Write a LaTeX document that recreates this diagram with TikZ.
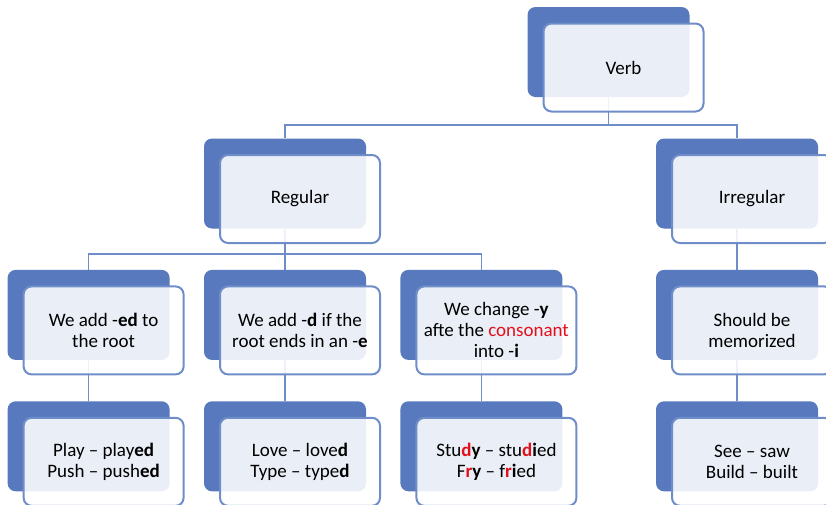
\documentclass[tikz,border=0pt]{standalone}
\usepackage{fontspec}
\setmainfont{Carlito}
\usepackage{tikz}
\usetikzlibrary{positioning}
\definecolor{boxblue}{HTML}{5879BD}
\definecolor{lineblue}{HTML}{6F8DC9}
\definecolor{redtext}{HTML}{E3101C}
\tikzstyle{back}  = [rectangle,rounded corners=8pt,fill=boxblue,minimum width=162pt,minimum height=90pt,inner sep=0pt]
\tikzstyle{front} = [rectangle,rounded corners=8pt,draw=lineblue,line width=2pt,fill=white,fill opacity=0.88,text opacity=1,minimum width=160pt,minimum height=88pt,align=center,xshift=15pt,yshift=-15.5pt]
\tikzstyle{link}  = [draw=lineblue,line width=1.5pt]
\newcommand{\rd}[1]{\textcolor{redtext}{#1}}

\begin{document}
\begin{tikzpicture}[x=1pt,y=-1pt,font=\fontsize{19}{21}\selectfont]
\useasboundingbox (0,0) rectangle (826,504);

\node[back] (V) at (608.5,52)  {};
\node[back] (R) at (285,183.5) {};
\node[back] (I) at (737,183.5) {};

\node[back] (B)  [below=41pt of R] {};
\node[back] (A)  [left=34pt of B]  {};
\node[back] (C)  [right=34pt of B] {};
\node[back] (D)  [below=41pt of I] {};

\node[back] (A2) [below=41pt of A] {};
\node[back] (B2) [below=41pt of B] {};
\node[back] (C2) [below=41pt of C] {};
\node[back] (D2) [below=41pt of D] {};

\path[link]
    (V.south) -- ++(0,28) -| (R.north)
    (V.south) ++(0,28) -| (I.north);
\path[link]
    (R.south) -- ++(0,25.5) -| (A.north)
    (R.south) ++(0,25.5) -| (C.north)
    (R.south) edge (B.north);
\path[link]
    (I.south) edge (D.north)
    (A.south) edge (A2.north)
    (B.south) edge (B2.north)
    (C.south) edge (C2.north)
    (D.south) edge (D2.north);

\node[front] (Vt) at (V) {Verb};
\node[front] (Rt) at (R) {Regular};
\node[front] (It) at (I) {Irregular};

\node[front] (At) at (A) {We add -\textbf{ed} to\\the root};
\node[front] (Bt) at (B) {We add -\textbf{d} if the\\root ends in an -\textbf{e}};
\node[front] (Ct) at (C) {We change -\textbf{y}\\afte the \rd{consonant}\\into -\textbf{i}};
\node[front] (Dt) at (D) {Should be\\memorized};

\node[front] (A2t) at (A2) {Play -- play\textbf{ed}\\Push -- push\textbf{ed}};
\node[front] (B2t) at (B2) {Love -- love\textbf{d}\\Type -- type\textbf{d}};
\node[front] (C2t) at (C2) {Stu\rd{\textbf{d}}\textbf{y} -- stu\rd{\textbf{d}}\textbf{i}ed\\F\rd{\textbf{r}}\textbf{y} -- f\rd{\textbf{r}}\textbf{i}ed};
\node[front] (D2t) at (D2) {See -- saw\\Build -- built};
\end{tikzpicture}
\end{document}
